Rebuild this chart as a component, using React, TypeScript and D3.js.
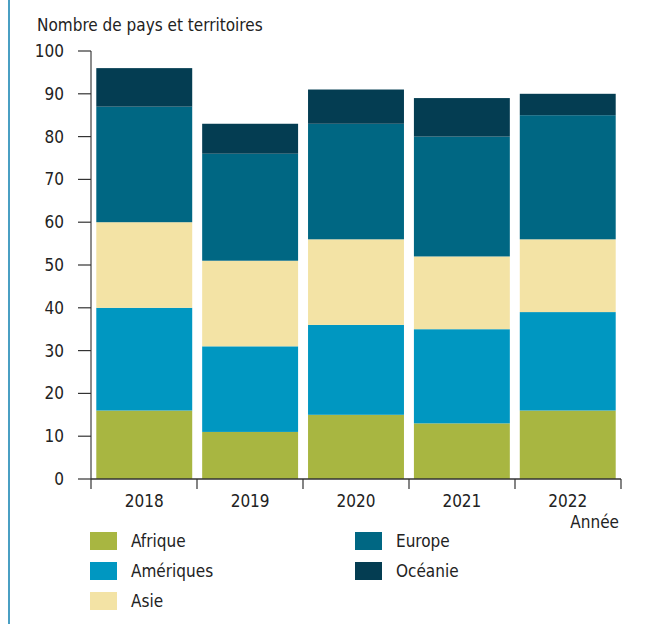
import React from "react";
import * as d3 from "d3";

const years = ["2018", "2019", "2020", "2021", "2022"];
const regions = ["Afrique", "Amériques", "Asie", "Europe", "Océanie"];
const afrique = [16, 11, 15, 13, 16];
const ameriques = [24, 20, 21, 22, 23];
const asie = [20, 20, 20, 17, 17];
const europe = [27, 25, 27, 28, 29];
const oceanie = [9, 7, 8, 9, 5];
const colors = ["#a8b641", "#0097c1", "#f3e3a5", "#006783", "#043d52"];
const yTicks = [0, 10, 20, 30, 40, 50, 60, 70, 80, 90, 100];
const yTitle = "Nombre de pays et territoires";
const xTitle = "Année";

const W = 669;
const H = 624;
const FONT = "'Liberation Sans Narrow', 'DejaVu Sans Condensed', 'Roboto', sans-serif";

export default function App() {
  const left = 91;
  const right = 621;
  const top = 51;
  const bottom = 479;

  const x = d3.scaleBand<string>().domain(years).range([left, right]).paddingInner(0.094).paddingOuter(0.05);
  const y = d3.scaleLinear().domain([0, 100]).range([bottom, top]);

  const table = years.map((yr, i) => ({
    year: yr,
    Afrique: afrique[i],
    "Amériques": ameriques[i],
    Asie: asie[i],
    Europe: europe[i],
    "Océanie": oceanie[i],
  }));
  const series = d3.stack<any>().keys(regions)(table);

  const bandStep = (right - left) / years.length;
  const xTickPos = d3.range(years.length + 1).map((i) => left + i * bandStep);

  const legend = [
    { name: regions[0], col: 0, row: 0, c: colors[0] },
    { name: regions[1], col: 0, row: 1, c: colors[1] },
    { name: regions[2], col: 0, row: 2, c: colors[2] },
    { name: regions[3], col: 1, row: 0, c: colors[3] },
    { name: regions[4], col: 1, row: 1, c: colors[4] },
  ];

  return (
    <svg width={W} height={H} style={{ position: "absolute", left: 0, top: 0, background: "#fff" }} fontFamily={FONT}>
      <rect x={0} y={0} width={W} height={H} fill="#fff" />
      <line x1={9} x2={9} y1={0} y2={H} stroke="#4a9fc3" strokeWidth={2} />
      <text x={37} y={31} fontSize={17} fill="#222">{yTitle}</text>

      {series.map((s, si) => (
        <g key={si} fill={colors[si]}>
          {s.map((d, i) => (
            <rect
              key={i}
              x={x(years[i])}
              width={x.bandwidth()}
              y={y(d[1])}
              height={y(d[0]) - y(d[1])}
            />
          ))}
        </g>
      ))}

      {/* y axis */}
      <line x1={left} x2={left} y1={y(100)} y2={bottom} stroke="#666" strokeWidth={1.5} />
      {yTicks.map((t) => (
        <g key={t}>
          <line x1={78} x2={left} y1={y(t)} y2={y(t)} stroke="#333" strokeWidth={1.2} />
          <text x={64} y={y(t) + 6} textAnchor="end" fontSize={17} fill="#222">{t}</text>
        </g>
      ))}

      {/* x axis */}
      <line x1={left} x2={right} y1={bottom} y2={bottom} stroke="#333" strokeWidth={1.5} />
      {xTickPos.map((p, i) => (
        <line key={i} x1={p} x2={p} y1={bottom} y2={bottom + 10} stroke="#333" strokeWidth={1.2} />
      ))}
      {years.map((yr) => (
        <text key={yr} x={(x(yr) as number) + x.bandwidth() / 2} y={507} textAnchor="middle" fontSize={17} fill="#222">{yr}</text>
      ))}
      <text x={619} y={528} textAnchor="end" fontSize={17} fill="#222">{xTitle}</text>

      {/* legend */}
      {legend.map((l) => (
        <g key={l.name} transform={`translate(${l.col === 0 ? 90 : 355},${532 + l.row * 30})`}>
          <rect x={0} y={0} width={27} height={18} fill={l.c} />
          <text x={41} y={15} fontSize={17} fill="#222">{l.name}</text>
        </g>
      ))}
    </svg>
  );
}
